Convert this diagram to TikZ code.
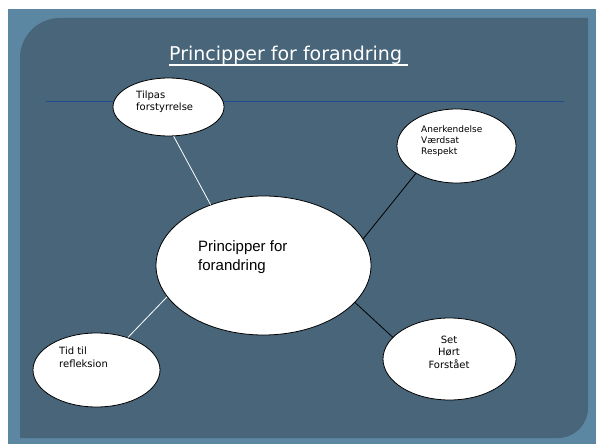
\documentclass[tikz,border=0pt]{standalone}
\usepackage{fontspec}
\newfontfamily\comicfont{DejaVu Sans}
\newfontfamily\arialfont{Liberation Sans}
\usetikzlibrary{shapes.geometric}
\definecolor{outerblue}{RGB}{91,135,163}
\definecolor{panelblue}{RGB}{72,101,121}
\definecolor{ruleblue}{RGB}{30,78,140}
\begin{document}
\begin{tikzpicture}[x=1pt,y=1pt,
  bubble/.style={ellipse,draw=black,fill=white,line width=0.8pt,inner sep=0pt},
  smalltext/.style={inner sep=0pt,font=\comicfont\fontsize{10}{12.5}\selectfont},
  link/.style={line width=0.8pt}]
\useasboundingbox (0,0) rectangle (596,444);
\fill[white] (0,0) rectangle (596,444);
\fill[outerblue] (8,0) rectangle (596,435);
\fill[panelblue] (20,6) -- (20,386) arc[start angle=180,end angle=90,radius=40] -- (588,426) -- (588,36) arc[start angle=0,end angle=-90,radius=30] -- cycle;
% title
\node[inner sep=0pt,anchor=base west,text=white,font=\comicfont\fontsize{19}{23}\selectfont] (title) at (169,383) {Principper for forandring};
\draw[white,line width=1.3pt] ([yshift=-4pt]title.base west) -- ([yshift=-4pt,xshift=6pt]title.base east);
\draw[ruleblue,line width=0.7pt] (46,343) -- (564,343);
% bubbles
\node[bubble,minimum width=111pt,minimum height=58pt] (tilpas) at (168.5,337) {};
\node[bubble,minimum width=119pt,minimum height=74pt] (aner) at (456.5,298) {};
\node[bubble,minimum width=215pt,minimum height=139pt] (main) at (263.5,178.5) {};
\node[bubble,minimum width=127pt,minimum height=74pt] (tid) at (96.5,74) {};
\node[bubble,minimum width=133pt,minimum height=82pt] (set) at (449.5,85) {};
\node[smalltext,align=left,anchor=west] (tilpastext) at (136,342.5) {Tilpas\\forstyrrelse};
\node[smalltext,align=left,anchor=west,font=\comicfont\fontsize{9}{11}\selectfont] (anertext) at (421,303) {Anerkendelse\\Værdsat\\Respekt};
\node[inner sep=0pt,align=left,anchor=west,font=\arialfont\fontsize{15}{19}\selectfont] (maintext) at (198,186.5) {Principper for\\forandring};
\node[smalltext,align=left,anchor=west] (tidtext) at (59,86.5) {Tid til\\refleksion};
\node[smalltext,align=center] (settext) at (449,92) {Set\\Hørt\\Forstået};
% links
\draw[link,white] (tilpas.-80) -- (main.131);
\draw[link,black] (aner.214) -- (main.15);
\draw[link,white] (tid.46) -- (main.198);
\draw[link,black] (set.159) -- (main.-22);
\end{tikzpicture}
\end{document}
